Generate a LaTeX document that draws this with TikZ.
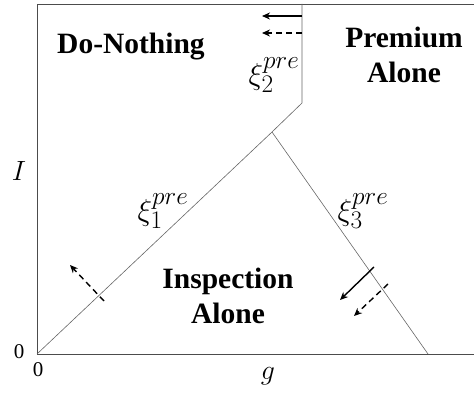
\documentclass[tikz,border=0pt]{standalone}
\usepackage{graphicx}
\usepackage{fontspec}
\setmainfont{Liberation Serif}
\usetikzlibrary{arrows.meta}
\newcommand{\curvelab}[1]{\scalebox{1.22}{$#1$}}
\newcommand{\axislab}[1]{\scalebox{1.12}{$#1$}}

\begin{document}
\begin{tikzpicture}[x=1pt, y=-1pt]
    \tikzset{region/.style={font=\fontsize{29.5}{35}\selectfont\bfseries, align=center},
             bound/.style={draw=black!60, line width=0.6pt},
             frame/.style={draw=black!70, line width=0.8pt},
             curlab/.style={font=\fontsize{24.88}{30}\selectfont},
             shiftarrow/.style={line width=1.4pt, -{Stealth[length=8pt,width=7pt]}},
             dasharrow/.style={shiftarrow, dash pattern=on 6pt off 4pt}}
    \useasboundingbox (0,0) rectangle (474,396);
    
    % Corners of the plane and region boundaries
    \coordinate (origin) at (37, 354);
    \coordinate (topleft) at (37, 4);
    \coordinate (topright) at (474, 4);
    \coordinate (botright) at (474, 354);
    \coordinate (top) at (302, 4);
    \coordinate (kink) at (302, 103);
    \coordinate (apex) at (272, 132);
    \coordinate (gend) at (428, 354);
    
    % Frame (axes)
    \draw[frame] (topright) -- (topleft) -- (origin) -- (botright);
    
    % Boundaries between regions
    \draw[bound] (origin) -- (apex);
    \draw[bound] (apex) -- (kink) -- (top);
    \draw[bound] (apex) -- (gend);
    
    % Shift arrows
    \coordinate (s1a) at (302, 16);
    \coordinate (s1b) at (262, 16);
    \coordinate (s2a) at (302, 33);
    \coordinate (s2b) at (262, 33);
    \coordinate (s3a) at (104, 301);
    \coordinate (s3b) at (70, 265);
    \coordinate (s4a) at (374, 267);
    \coordinate (s4b) at (340, 300);
    \coordinate (s5a) at (388, 284);
    \coordinate (s5b) at (354, 316);
    \draw[shiftarrow] (s1a) -- (s1b);
    \draw[dasharrow] (s2a) -- (s2b);
    \draw[dasharrow] (s3a) -- (s3b);
    \draw[shiftarrow] (s4a) -- (s4b);
    \draw[dasharrow] (s5a) -- (s5b);
    
    % Region names
    \node[region] (donothing) at (131, 47) {Do-Nothing};
    \node[region] (premium) at (404, 55) {Premium\\Alone};
    \node[region] (inspection) at (228, 296) {Inspection\\Alone};
    
    % Boundary labels
    \node[curlab] (xi2) at (274, 75) {\curvelab{\xi_2^{pre}}};
    \node[curlab] (xi1) at (163, 211) {\curvelab{\xi_1^{pre}}};
    \node[curlab] (xi3) at (363, 211) {\curvelab{\xi_3^{pre}}};
    
    % Axis labels
    \node[curlab] (ilab) at (19, 171) {\axislab{I}};
    \node[curlab] (glab) at (268, 376) {\axislab{g}};
    \node[font=\fontsize{21}{24}\selectfont] (zeroy) at (19, 352) {0};
    \node[font=\fontsize{21}{24}\selectfont] (zerox) at (38, 370) {0};
    
\end{tikzpicture}
\end{document}
